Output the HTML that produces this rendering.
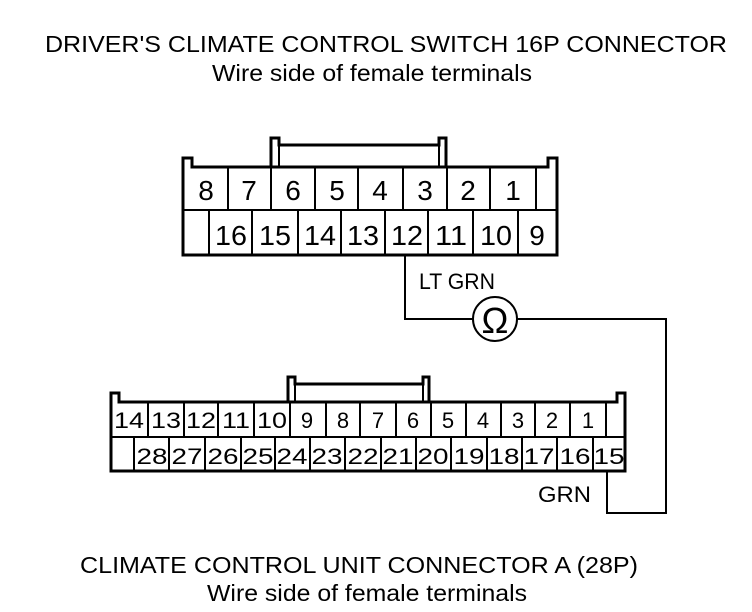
<!DOCTYPE html>
<html><head><meta charset="utf-8"><style>
html,body{margin:0;padding:0;background:#fff;}
svg{display:block;}
text{font-family:"Liberation Sans",sans-serif;fill:#000;}
</style></head><body>
<svg width="752" height="612" viewBox="0 0 752 612" xmlns="http://www.w3.org/2000/svg">
<g font-size="23">
<text x="45" y="52" textLength="682" lengthAdjust="spacingAndGlyphs">DRIVER'S CLIMATE CONTROL SWITCH 16P CONNECTOR</text>
<text x="212" y="81" textLength="320" lengthAdjust="spacingAndGlyphs">Wire side of female terminals</text>
<text x="80" y="573" textLength="558" lengthAdjust="spacingAndGlyphs">CLIMATE CONTROL UNIT CONNECTOR A (28P)</text>
<text x="207" y="601" textLength="320" lengthAdjust="spacingAndGlyphs">Wire side of female terminals</text>
</g>
<g fill="none" stroke="#000" stroke-width="3">
<path d="M183,255 V158 H192 V167 H548 V158 H557 V255 Z" fill="#fff"/>
<path d="M271,167 V138 H279 V145 H439 V138 H446 V167"/>
<line x1="279" y1="145" x2="279" y2="167" stroke-width="2"/>
<line x1="439" y1="145" x2="439" y2="167" stroke-width="2"/>
<line x1="183" y1="210" x2="557" y2="210" stroke-width="2"/>
</g>
<g stroke="#000" stroke-width="2">
<line x1="228" y1="167" x2="228" y2="210"/><line x1="271" y1="167" x2="271" y2="210"/>
<line x1="315" y1="167" x2="315" y2="210"/><line x1="358" y1="167" x2="358" y2="210"/>
<line x1="403" y1="167" x2="403" y2="210"/><line x1="447" y1="167" x2="447" y2="210"/>
<line x1="490" y1="167" x2="490" y2="210"/><line x1="536" y1="167" x2="536" y2="210"/>
<line x1="209" y1="210" x2="209" y2="255"/><line x1="252" y1="210" x2="252" y2="255"/>
<line x1="298" y1="210" x2="298" y2="255"/><line x1="341" y1="210" x2="341" y2="255"/>
<line x1="385" y1="210" x2="385" y2="255"/><line x1="428" y1="210" x2="428" y2="255"/>
<line x1="473" y1="210" x2="473" y2="255"/><line x1="518" y1="210" x2="518" y2="255"/>
</g>
<g font-size="28" text-anchor="middle">
<text x="206" y="200">8</text><text x="249" y="200">7</text><text x="293" y="200">6</text>
<text x="337" y="200">5</text><text x="380" y="200">4</text><text x="425" y="200">3</text>
<text x="468" y="200">2</text><text x="513" y="200">1</text>
<text x="231" y="245" textLength="32" lengthAdjust="spacingAndGlyphs">16</text><text x="275" y="245" textLength="32" lengthAdjust="spacingAndGlyphs">15</text><text x="320" y="245" textLength="32" lengthAdjust="spacingAndGlyphs">14</text>
<text x="363" y="245" textLength="32" lengthAdjust="spacingAndGlyphs">13</text><text x="407" y="245" textLength="32" lengthAdjust="spacingAndGlyphs">12</text><text x="451" y="245" textLength="32" lengthAdjust="spacingAndGlyphs">11</text>
<text x="496" y="245" textLength="32" lengthAdjust="spacingAndGlyphs">10</text><text x="537" y="245">9</text>
</g>
<g fill="none" stroke="#000" stroke-width="2">
<path d="M405,255 V319 H473"/>
<path d="M517,319 H666 V513 H607 V471"/>
<circle cx="495" cy="319" r="22"/>
</g>
<text x="495" y="333" font-size="36" text-anchor="middle">Ω</text>
<text x="419" y="289" font-size="22" textLength="76" lengthAdjust="spacingAndGlyphs">LT GRN</text>
<text x="538" y="502" font-size="22" textLength="53" lengthAdjust="spacingAndGlyphs">GRN</text>
<g fill="none" stroke="#000" stroke-width="3">
<path d="M111,471 V393 H119 V402 H617 V393 H625 V471 Z" fill="#fff"/>
<path d="M288,402 V377 H295 V384 H423 V377 H429 V402"/>
<line x1="295" y1="384" x2="295" y2="402" stroke-width="2"/>
<line x1="423" y1="384" x2="423" y2="402" stroke-width="2"/>
<line x1="111" y1="437" x2="625" y2="437" stroke-width="2"/>
</g>
<g stroke="#000" stroke-width="2">
<line x1="148" y1="402" x2="148" y2="437"/><line x1="184" y1="402" x2="184" y2="437"/>
<line x1="218" y1="402" x2="218" y2="437"/><line x1="254" y1="402" x2="254" y2="437"/>
<line x1="290" y1="402" x2="290" y2="437"/><line x1="326" y1="402" x2="326" y2="437"/>
<line x1="360" y1="402" x2="360" y2="437"/><line x1="396" y1="402" x2="396" y2="437"/>
<line x1="431" y1="402" x2="431" y2="437"/><line x1="466" y1="402" x2="466" y2="437"/>
<line x1="501" y1="402" x2="501" y2="437"/><line x1="535" y1="402" x2="535" y2="437"/>
<line x1="570" y1="402" x2="570" y2="437"/><line x1="606" y1="402" x2="606" y2="437"/>
<line x1="134" y1="437" x2="134" y2="471"/><line x1="169" y1="437" x2="169" y2="471"/>
<line x1="205" y1="437" x2="205" y2="471"/><line x1="241" y1="437" x2="241" y2="471"/>
<line x1="275" y1="437" x2="275" y2="471"/><line x1="310" y1="437" x2="310" y2="471"/>
<line x1="345" y1="437" x2="345" y2="471"/><line x1="381" y1="437" x2="381" y2="471"/>
<line x1="416" y1="437" x2="416" y2="471"/><line x1="451" y1="437" x2="451" y2="471"/>
<line x1="487" y1="437" x2="487" y2="471"/><line x1="522" y1="437" x2="522" y2="471"/>
<line x1="557" y1="437" x2="557" y2="471"/><line x1="593" y1="437" x2="593" y2="471"/>
</g>
<g font-size="22" text-anchor="middle">
<text x="129" y="428" textLength="30" lengthAdjust="spacingAndGlyphs">14</text><text x="166" y="428" textLength="30" lengthAdjust="spacingAndGlyphs">13</text><text x="201" y="428" textLength="30" lengthAdjust="spacingAndGlyphs">12</text>
<text x="236" y="428" textLength="28" lengthAdjust="spacingAndGlyphs">11</text><text x="272" y="428" textLength="30" lengthAdjust="spacingAndGlyphs">10</text><text x="307" y="428">9</text>
<text x="343" y="428">8</text><text x="378" y="428">7</text><text x="413" y="428">6</text>
<text x="448" y="428">5</text><text x="483" y="428">4</text><text x="518" y="428">3</text>
<text x="552" y="428">2</text><text x="588" y="428">1</text>
<g textLength="31" lengthAdjust="spacingAndGlyphs">
<text x="152" y="464" textLength="31" lengthAdjust="spacingAndGlyphs">28</text><text x="187" y="464" textLength="31" lengthAdjust="spacingAndGlyphs">27</text><text x="223" y="464" textLength="31" lengthAdjust="spacingAndGlyphs">26</text>
<text x="258" y="464" textLength="31" lengthAdjust="spacingAndGlyphs">25</text><text x="292" y="464" textLength="31" lengthAdjust="spacingAndGlyphs">24</text><text x="327" y="464" textLength="31" lengthAdjust="spacingAndGlyphs">23</text>
<text x="363" y="464" textLength="31" lengthAdjust="spacingAndGlyphs">22</text><text x="398" y="464" textLength="31" lengthAdjust="spacingAndGlyphs">21</text><text x="433" y="464" textLength="31" lengthAdjust="spacingAndGlyphs">20</text>
<text x="469" y="464" textLength="31" lengthAdjust="spacingAndGlyphs">19</text><text x="504" y="464" textLength="31" lengthAdjust="spacingAndGlyphs">18</text><text x="539" y="464" textLength="31" lengthAdjust="spacingAndGlyphs">17</text>
<text x="575" y="464" textLength="31" lengthAdjust="spacingAndGlyphs">16</text><text x="609" y="464" textLength="31" lengthAdjust="spacingAndGlyphs">15</text>
</g>
</g>
</svg>
</body></html>
